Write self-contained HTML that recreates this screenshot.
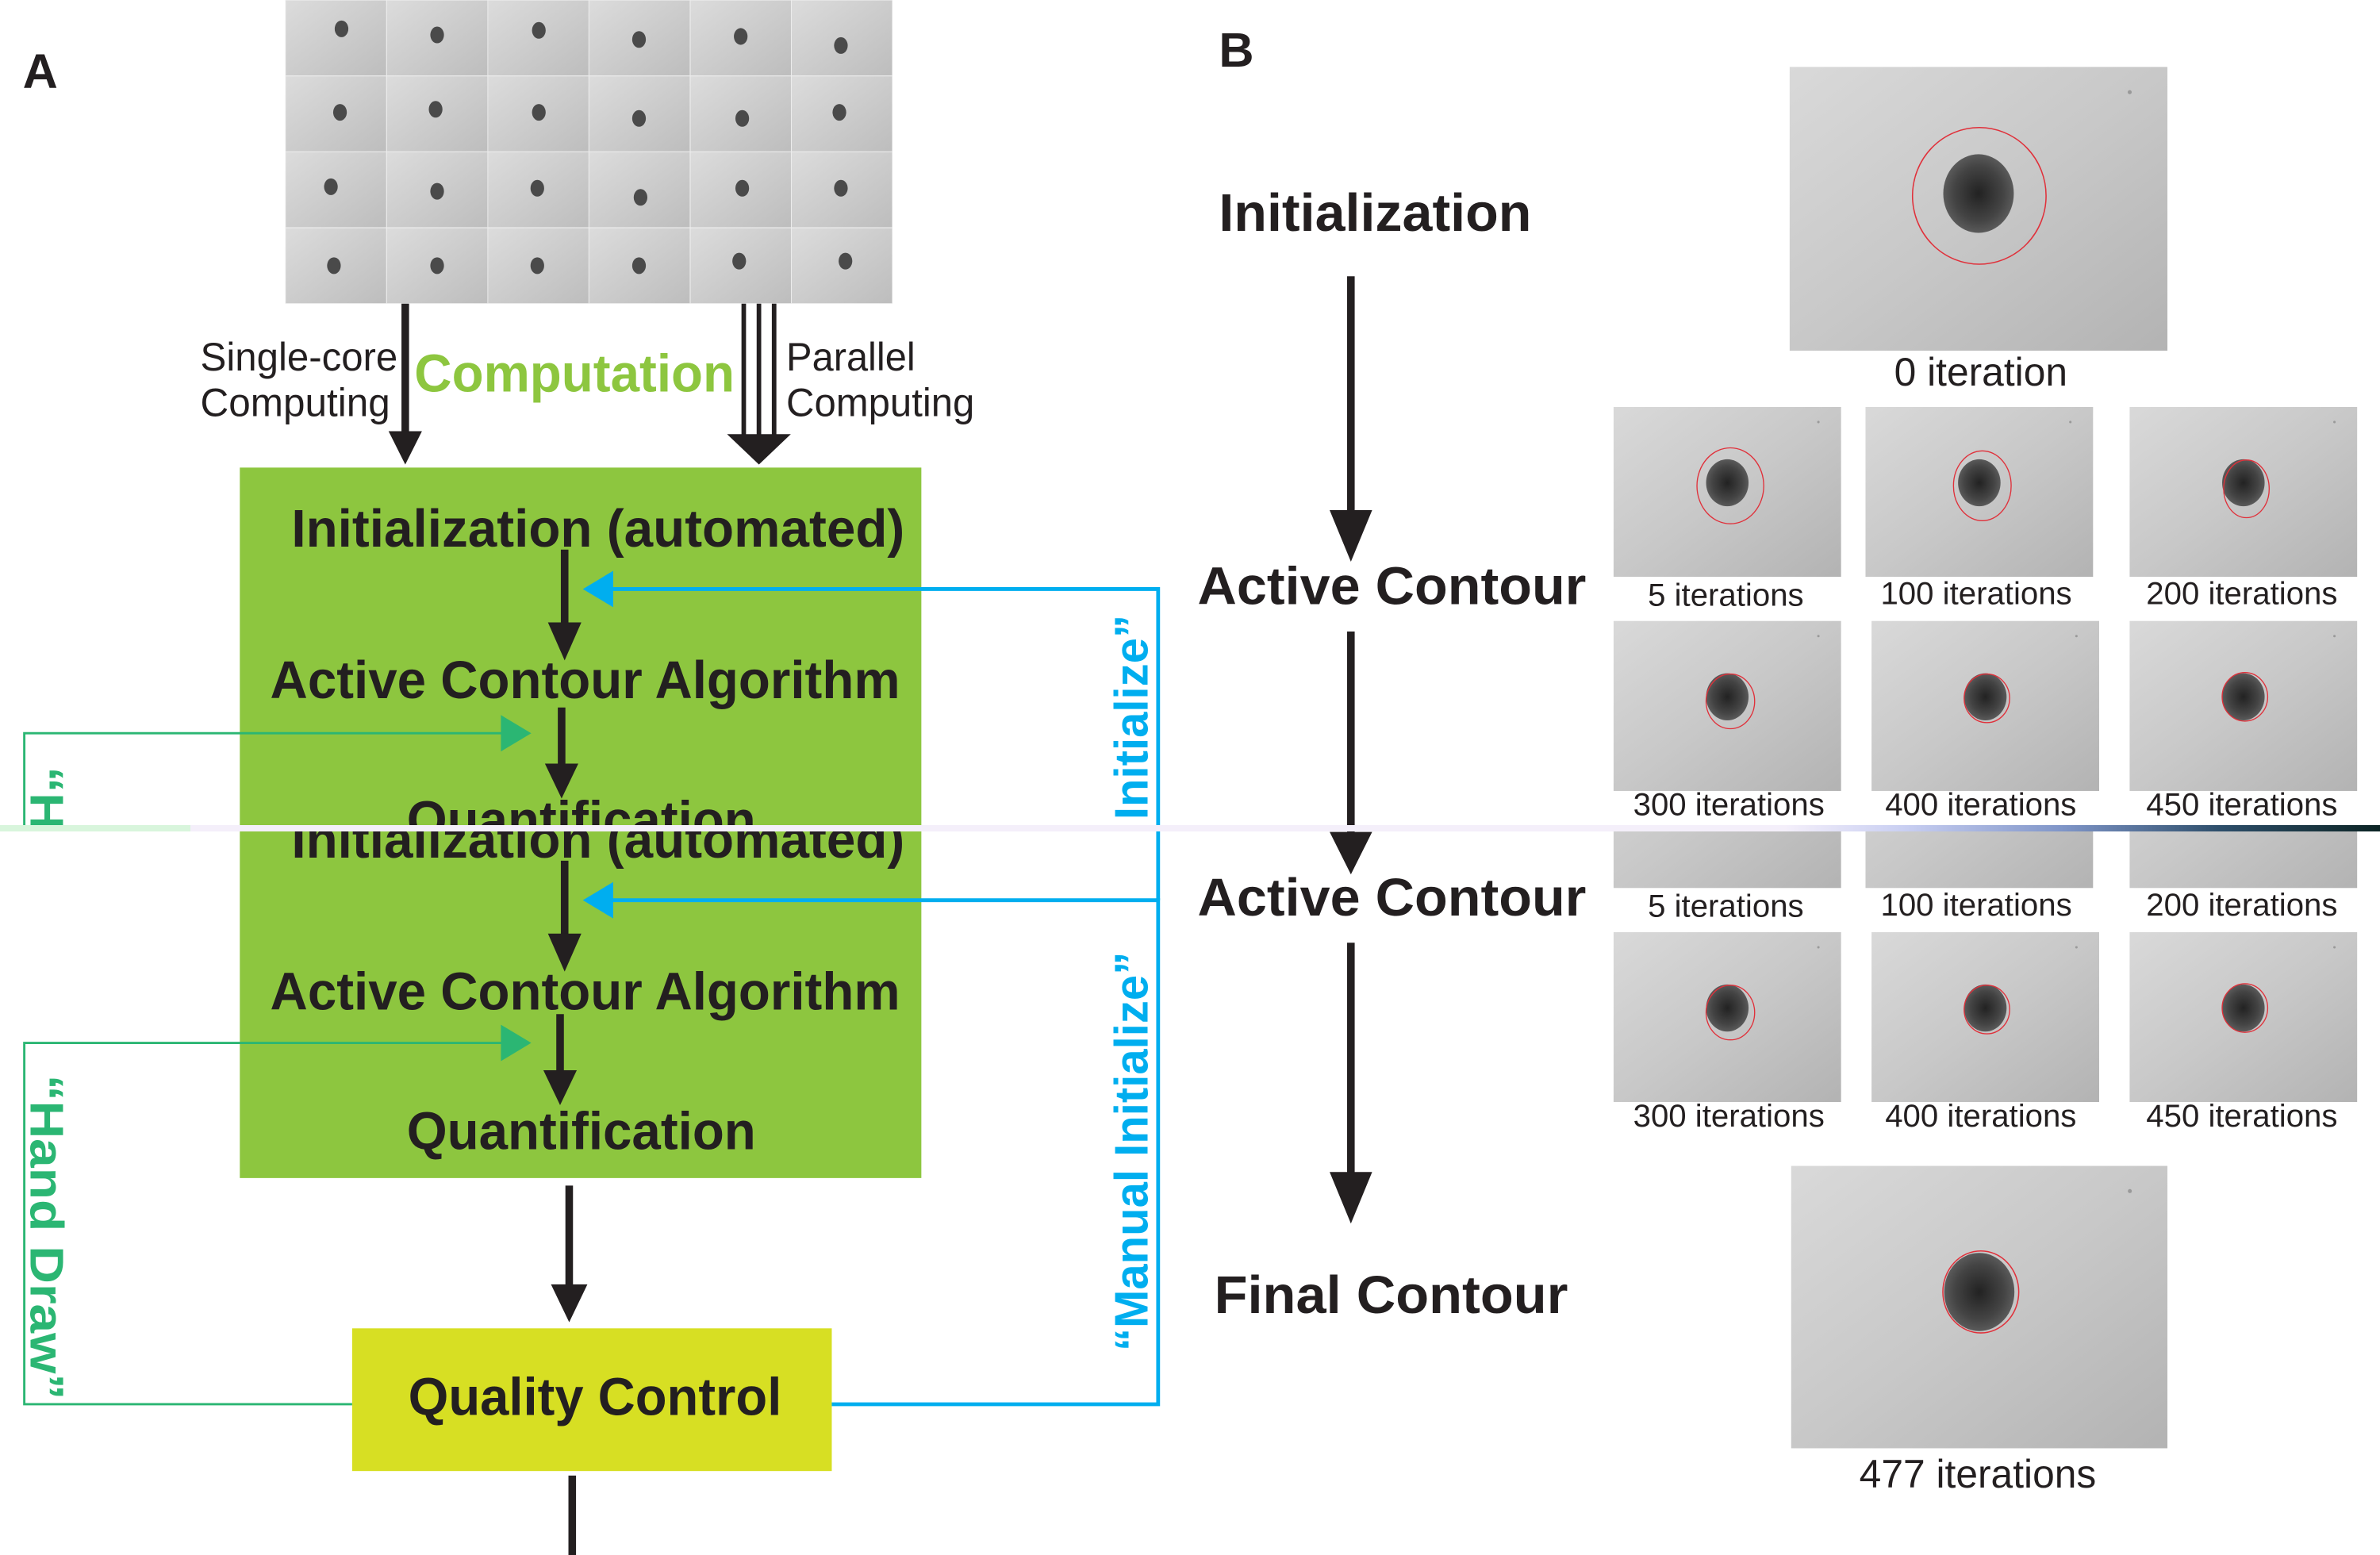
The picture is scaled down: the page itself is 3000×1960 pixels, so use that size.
<!DOCTYPE html>
<html><head><meta charset="utf-8"><style>
html,body{margin:0;padding:0;background:#fff;}
body{width:3000px;height:1960px;position:relative;overflow:hidden;font-family:"Liberation Sans",sans-serif;}
svg{position:absolute;left:0;display:block;}
.b{font-family:"Liberation Sans",sans-serif;font-weight:bold;fill:#231f20;}
.r{font-family:"Liberation Sans",sans-serif;fill:#231f20;}
#seam{position:absolute;left:0;top:1040px;width:3000px;height:8px;background:linear-gradient(90deg,#d8f5dc 0,#d8f5dc 240px,#f4effa 240px,#f4effa 2250px,#c9cff2 2400px,#7f95c8 2600px,#2d4e6a 2800px,#0c2424 3000px);}
</style></head><body>
<svg width="0" height="0" style="position:absolute">
<defs>
<linearGradient id="gm" x1="0" y1="0" x2="1" y2="1"><stop offset="0" stop-color="#d9d9d9"/><stop offset="0.5" stop-color="#c8c8c8"/><stop offset="1" stop-color="#b3b3b3"/></linearGradient>
<linearGradient id="gc" x1="0" y1="0" x2="1" y2="1"><stop offset="0" stop-color="#dcdcdc"/><stop offset="1" stop-color="#bdbdbd"/></linearGradient>
<radialGradient id="blob"><stop offset="0" stop-color="#222"/><stop offset="0.7" stop-color="#444"/><stop offset="1" stop-color="#5a5a5a"/></radialGradient>
<symbol id="mic" viewBox="0 0 150 112" preserveAspectRatio="none">
<rect width="150" height="112" fill="url(#gm)"/>
<ellipse cx="75" cy="50" rx="14" ry="15.5" fill="url(#blob)"/>
<circle cx="135" cy="10" r="0.8" fill="#999"/>
</symbol>
<symbol id="cell" viewBox="0 0 67 50" preserveAspectRatio="none">
<rect width="67" height="50" fill="url(#gc)" stroke="#eee" stroke-width="0.6"/>
</symbol>
</defs>
</svg>

<!-- TOP PART -->
<svg width="3000" height="1040" viewBox="0 0 1568 543.5" preserveAspectRatio="none" style="top:0">
<text class="b" x="15" y="58" font-size="32">A</text>
<text class="b" x="803" y="44" font-size="32">B</text>
<g>
<use href="#cell" x="188" y="0" width="66.7" height="50"/><use href="#cell" x="254.7" y="0" width="66.7" height="50"/><use href="#cell" x="321.3" y="0" width="66.7" height="50"/><use href="#cell" x="388" y="0" width="66.7" height="50"/><use href="#cell" x="454.7" y="0" width="66.7" height="50"/><use href="#cell" x="521.3" y="0" width="66.7" height="50"/>
<use href="#cell" x="188" y="50" width="66.7" height="50"/><use href="#cell" x="254.7" y="50" width="66.7" height="50"/><use href="#cell" x="321.3" y="50" width="66.7" height="50"/><use href="#cell" x="388" y="50" width="66.7" height="50"/><use href="#cell" x="454.7" y="50" width="66.7" height="50"/><use href="#cell" x="521.3" y="50" width="66.7" height="50"/>
<use href="#cell" x="188" y="100" width="66.7" height="50"/><use href="#cell" x="254.7" y="100" width="66.7" height="50"/><use href="#cell" x="321.3" y="100" width="66.7" height="50"/><use href="#cell" x="388" y="100" width="66.7" height="50"/><use href="#cell" x="454.7" y="100" width="66.7" height="50"/><use href="#cell" x="521.3" y="100" width="66.7" height="50"/>
<use href="#cell" x="188" y="150" width="66.7" height="50"/><use href="#cell" x="254.7" y="150" width="66.7" height="50"/><use href="#cell" x="321.3" y="150" width="66.7" height="50"/><use href="#cell" x="388" y="150" width="66.7" height="50"/><use href="#cell" x="454.7" y="150" width="66.7" height="50"/><use href="#cell" x="521.3" y="150" width="66.7" height="50"/>
<g fill="#4a4a4a">
<ellipse cx="225" cy="19" rx="4.5" ry="5.5"/><ellipse cx="288" cy="23" rx="4.5" ry="5.5"/><ellipse cx="355" cy="20" rx="4.5" ry="5.5"/><ellipse cx="421" cy="26" rx="4.5" ry="5.5"/><ellipse cx="488" cy="24" rx="4.5" ry="5.5"/><ellipse cx="554" cy="30" rx="4.5" ry="5.5"/>
<ellipse cx="224" cy="74" rx="4.5" ry="5.5"/><ellipse cx="287" cy="72" rx="4.5" ry="5.5"/><ellipse cx="355" cy="74" rx="4.5" ry="5.5"/><ellipse cx="421" cy="78" rx="4.5" ry="5.5"/><ellipse cx="489" cy="78" rx="4.5" ry="5.5"/><ellipse cx="553" cy="74" rx="4.5" ry="5.5"/>
<ellipse cx="218" cy="123" rx="4.5" ry="5.5"/><ellipse cx="288" cy="126" rx="4.5" ry="5.5"/><ellipse cx="354" cy="124" rx="4.5" ry="5.5"/><ellipse cx="422" cy="130" rx="4.5" ry="5.5"/><ellipse cx="489" cy="124" rx="4.5" ry="5.5"/><ellipse cx="554" cy="124" rx="4.5" ry="5.5"/>
<ellipse cx="220" cy="175" rx="4.5" ry="5.5"/><ellipse cx="288" cy="175" rx="4.5" ry="5.5"/><ellipse cx="354" cy="175" rx="4.5" ry="5.5"/><ellipse cx="421" cy="175" rx="4.5" ry="5.5"/><ellipse cx="487" cy="172" rx="4.5" ry="5.5"/><ellipse cx="557" cy="172" rx="4.5" ry="5.5"/>
</g></g>
<!-- computation arrows -->
<line x1="267" y1="200" x2="267" y2="288" stroke="#231f20" stroke-width="5"/>
<polygon points="256,284 278,284 267,306" fill="#231f20"/>
<g stroke="#231f20" stroke-width="3"><line x1="490" y1="200" x2="490" y2="290"/><line x1="500" y1="200" x2="500" y2="290"/><line x1="510" y1="200" x2="510" y2="290"/></g>
<polygon points="479,286 521,286 500,306" fill="#231f20"/>
<text class="r" x="132" y="244" font-size="26" textLength="130" lengthAdjust="spacingAndGlyphs">Single-core</text>
<text class="r" x="132" y="274" font-size="26" textLength="125" lengthAdjust="spacingAndGlyphs">Computing</text>
<text class="b" x="273" y="258" font-size="35" fill="#8dc63f" style="fill:#8dc63f" textLength="211" lengthAdjust="spacingAndGlyphs">Computation</text>
<text class="r" x="518" y="244" font-size="26" textLength="85" lengthAdjust="spacingAndGlyphs">Parallel</text>
<text class="r" x="518" y="274" font-size="26" textLength="124" lengthAdjust="spacingAndGlyphs">Computing</text>
<!-- green box -->
<rect x="158" y="308" width="449" height="673" fill="#8dc63f"/>
<text class="b" x="192" y="360" font-size="35" textLength="404" lengthAdjust="spacingAndGlyphs">Initialization (automated)</text>
<line x1="372" y1="362" x2="372" y2="414" stroke="#231f20" stroke-width="5"/>
<polygon points="361,410 383,410 372,435" fill="#231f20"/>
<text class="b" x="178" y="460" font-size="35" textLength="415" lengthAdjust="spacingAndGlyphs">Active Contour Algorithm</text>
<line x1="370" y1="466" x2="370" y2="506" stroke="#231f20" stroke-width="5"/>
<polygon points="359,503 381,503 370,526" fill="#231f20"/>
<text class="b" x="268" y="552" font-size="35" textLength="230" lengthAdjust="spacingAndGlyphs">Quantification</text>
<!-- blue -->
<polyline points="402,388 763,388 763,560" fill="none" stroke="#00aeef" stroke-width="2.5"/>
<polygon points="384,388 404,376 404,400" fill="#00aeef"/>
<text class="b" transform="translate(756,668) rotate(-90)" font-size="31" style="fill:#00aeef" textLength="263" lengthAdjust="spacingAndGlyphs">“Manual Initialize”</text>
<!-- green -->
<polyline points="332,483 16,483 16,560" fill="none" stroke="#2bb673" stroke-width="1.5"/>
<polygon points="350,483 330,471 330,495" fill="#2bb673"/>
<text class="b" transform="translate(20,505) rotate(90)" font-size="31" style="fill:#2bb673" textLength="214" lengthAdjust="spacingAndGlyphs">“Hand Draw”</text>
<!-- right B -->
<text class="b" x="803" y="152" font-size="35" textLength="206" lengthAdjust="spacingAndGlyphs">Initialization</text>
<line x1="890" y1="182" x2="890" y2="340" stroke="#231f20" stroke-width="5"/>
<polygon points="876,336 904,336 890,370" fill="#231f20"/>
<text class="b" x="789" y="398" font-size="35" textLength="256" lengthAdjust="spacingAndGlyphs">Active Contour</text>
<line x1="890" y1="416" x2="890" y2="560" stroke="#231f20" stroke-width="5"/>
<use href="#mic" x="1179" y="44" width="249" height="187"/>
<ellipse cx="1304" cy="129" rx="44" ry="45" fill="none" stroke="#e0303a" stroke-width="0.8"/>
<text class="r" x="1305" y="254" font-size="26" text-anchor="middle">0 iteration</text>
<use href="#mic" x="1063" y="268" width="150" height="112"/>
<ellipse cx="1140" cy="320" rx="22" ry="25" fill="none" stroke="#e0303a" stroke-width="0.7"/>
<use href="#mic" x="1229" y="268" width="150" height="112"/>
<ellipse cx="1306" cy="320" rx="19" ry="23" fill="none" stroke="#e0303a" stroke-width="0.7"/>
<use href="#mic" x="1403" y="268" width="150" height="112"/>
<ellipse cx="1480" cy="322" rx="15" ry="19" fill="none" stroke="#e0303a" stroke-width="0.7"/>
<text class="r" x="1137" y="399" font-size="21" text-anchor="middle">5 iterations</text>
<text class="r" x="1302" y="398" font-size="21" text-anchor="middle">100 iterations</text>
<text class="r" x="1477" y="398" font-size="21" text-anchor="middle">200 iterations</text>
<use href="#mic" x="1063" y="409" width="150" height="112"/>
<ellipse cx="1140" cy="462" rx="16" ry="18" fill="none" stroke="#e0303a" stroke-width="0.7"/>
<use href="#mic" x="1233" y="409" width="150" height="112"/>
<ellipse cx="1309" cy="460" rx="15" ry="16" fill="none" stroke="#e0303a" stroke-width="0.7"/>
<use href="#mic" x="1403" y="409" width="150" height="112"/>
<ellipse cx="1479" cy="459" rx="15" ry="16" fill="none" stroke="#e0303a" stroke-width="0.7"/>
<text class="r" x="1139" y="537" font-size="21" text-anchor="middle">300 iterations</text>
<text class="r" x="1305" y="537" font-size="21" text-anchor="middle">400 iterations</text>
<text class="r" x="1477" y="537" font-size="21" text-anchor="middle">450 iterations</text>
</svg>

<div id="seam"></div>

<!-- BOTTOM PART -->
<svg width="3000" height="912" viewBox="0 547.7 1568 476.6" preserveAspectRatio="none" style="top:1048px">
<rect x="158" y="500" width="449" height="276" fill="#8dc63f"/>
<text class="b" x="192" y="565" font-size="35" textLength="404" lengthAdjust="spacingAndGlyphs">Initialization (automated)</text>
<line x1="372" y1="567" x2="372" y2="619" stroke="#231f20" stroke-width="5"/>
<polygon points="361,615 383,615 372,640" fill="#231f20"/>
<text class="b" x="178" y="665" font-size="35" textLength="415" lengthAdjust="spacingAndGlyphs">Active Contour Algorithm</text>
<line x1="369" y1="668" x2="369" y2="708" stroke="#231f20" stroke-width="5"/>
<polygon points="358,705 380,705 369,728" fill="#231f20"/>
<text class="b" x="268" y="757" font-size="35" textLength="230" lengthAdjust="spacingAndGlyphs">Quantification</text>
<line x1="375" y1="781" x2="375" y2="850" stroke="#231f20" stroke-width="5"/>
<polygon points="363,846 387,846 375,871" fill="#231f20"/>
<rect x="232" y="875" width="316" height="94" fill="#d7df23"/>
<text class="b" x="269" y="932" font-size="35" textLength="246" lengthAdjust="spacingAndGlyphs">Quality Control</text>
<line x1="377" y1="972" x2="377" y2="1030" stroke="#231f20" stroke-width="5"/>
<!-- blue -->
<polyline points="402,593 763,593 763,925 548,925" fill="none" stroke="#00aeef" stroke-width="2.5"/>
<line x1="763" y1="500" x2="763" y2="593" stroke="#00aeef" stroke-width="2.5"/>
<polygon points="384,593 404,581 404,605" fill="#00aeef"/>
<text class="b" transform="translate(756,890) rotate(-90)" font-size="31" style="fill:#00aeef" textLength="263" lengthAdjust="spacingAndGlyphs">“Manual Initialize”</text>
<!-- green -->
<polyline points="332,687 16,687 16,925 232,925" fill="none" stroke="#2bb673" stroke-width="1.5"/>
<polygon points="350,687 330,675 330,699" fill="#2bb673"/>
<text class="b" transform="translate(20,708) rotate(90)" font-size="31" style="fill:#2bb673" textLength="214" lengthAdjust="spacingAndGlyphs">“Hand Draw”</text>
<!-- right -->
<line x1="890" y1="500" x2="890" y2="552" stroke="#231f20" stroke-width="5"/>
<polygon points="876,548 904,548 890,576" fill="#231f20"/>
<text class="b" x="789" y="603" font-size="35" textLength="256" lengthAdjust="spacingAndGlyphs">Active Contour</text>
<line x1="890" y1="621" x2="890" y2="776" stroke="#231f20" stroke-width="5"/>
<polygon points="876,772 904,772 890,806" fill="#231f20"/>
<text class="b" x="800" y="865" font-size="35" textLength="233" lengthAdjust="spacingAndGlyphs">Final Contour</text>
<use href="#mic" x="1063" y="473" width="150" height="112"/>
<use href="#mic" x="1229" y="473" width="150" height="112"/>
<use href="#mic" x="1403" y="473" width="150" height="112"/>
<text class="r" x="1137" y="604" font-size="21" text-anchor="middle">5 iterations</text>
<text class="r" x="1302" y="603" font-size="21" text-anchor="middle">100 iterations</text>
<text class="r" x="1477" y="603" font-size="21" text-anchor="middle">200 iterations</text>
<use href="#mic" x="1063" y="614" width="150" height="112"/>
<ellipse cx="1140" cy="667" rx="16" ry="18" fill="none" stroke="#e0303a" stroke-width="0.7"/>
<use href="#mic" x="1233" y="614" width="150" height="112"/>
<ellipse cx="1309" cy="665" rx="15" ry="16" fill="none" stroke="#e0303a" stroke-width="0.7"/>
<use href="#mic" x="1403" y="614" width="150" height="112"/>
<ellipse cx="1479" cy="664" rx="15" ry="16" fill="none" stroke="#e0303a" stroke-width="0.7"/>
<text class="r" x="1139" y="742" font-size="21" text-anchor="middle">300 iterations</text>
<text class="r" x="1305" y="742" font-size="21" text-anchor="middle">400 iterations</text>
<text class="r" x="1477" y="742" font-size="21" text-anchor="middle">450 iterations</text>
<use href="#mic" x="1180" y="768" width="248" height="186"/>
<ellipse cx="1305" cy="851" rx="25" ry="27" fill="none" stroke="#e0303a" stroke-width="0.8"/>
<text class="r" x="1303" y="980" font-size="26" text-anchor="middle">477 iterations</text>
<text class="b" x="803" y="1048" font-size="32">C</text>
</svg>
</body></html>
